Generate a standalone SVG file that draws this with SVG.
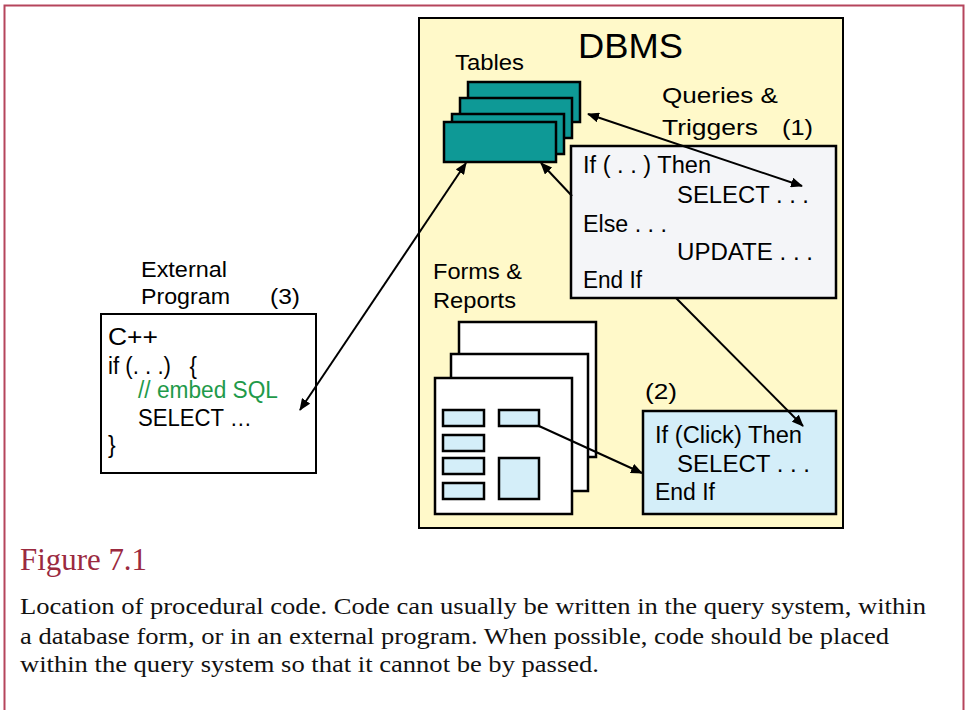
<svg xmlns="http://www.w3.org/2000/svg" width="966" height="710" viewBox="0 0 966 710">
<defs>
<marker id="ah" viewBox="0 0 12 10" refX="11" refY="5" markerWidth="12" markerHeight="10" markerUnits="userSpaceOnUse" orient="auto-start-reverse">
<path d="M0,0 L12,5 L0,10 Z" fill="#000"/>
</marker>
</defs>
<style>
.t{font-family:"Liberation Sans",Arial,sans-serif;font-size:22px;fill:#000}
.c{font-family:"Liberation Sans",Arial,sans-serif;font-size:23px;fill:#000}
.box{stroke:#000;stroke-width:2.5}
.tbl{fill:#0e9996;stroke:#000;stroke-width:2.5}
.fm{fill:#fff;stroke:#000;stroke-width:2.5}
.lb{fill:#d4eef9;stroke:#000;stroke-width:2.5}
.conn{stroke:#000;stroke-width:2;fill:none}
.cap{font-family:"Liberation Serif","Times New Roman",serif;fill:#111}
</style>
<rect x="0" y="0" width="966" height="710" fill="#fff"/>
<rect x="4.5" y="5.5" width="959" height="730" fill="none" stroke="#b5455c" stroke-width="2"/>

<g id="dbms">
<rect x="419" y="18" width="424" height="510" fill="#fff9c9" stroke="#000" stroke-width="2"/>
<text class="t" x="578" y="58" style="font-size:35px" textLength="105" lengthAdjust="spacingAndGlyphs">DBMS</text>
</g>

<g id="tables">
<rect class="tbl" x="468" y="82" width="112" height="40"/>
<rect class="tbl" x="460" y="98" width="112" height="40"/>
<rect class="tbl" x="452" y="114" width="112" height="40"/>
<rect class="tbl" x="444" y="122" width="112" height="40"/>
<text class="t" x="455" y="70" textLength="69" lengthAdjust="spacingAndGlyphs">Tables</text>
</g>

<g id="queries">
<text class="t" x="662" y="103" textLength="116" lengthAdjust="spacingAndGlyphs">Queries &amp;</text>
<text class="t" x="662" y="135" textLength="96" lengthAdjust="spacingAndGlyphs">Triggers</text>
<text class="t" x="782" y="135" textLength="31" lengthAdjust="spacingAndGlyphs">(1)</text>
<rect class="box" x="571" y="146" width="265" height="152" fill="#f4f5f8"/>
<text class="c" x="583" y="173" textLength="128" lengthAdjust="spacingAndGlyphs">If ( . . ) Then</text>
<text class="c" x="677" y="203" textLength="132" lengthAdjust="spacingAndGlyphs">SELECT . . .</text>
<text class="c" x="583" y="232" textLength="84" lengthAdjust="spacingAndGlyphs">Else . . .</text>
<text class="c" x="677" y="260" textLength="136" lengthAdjust="spacingAndGlyphs">UPDATE . . .</text>
<text class="c" x="583" y="288" textLength="59" lengthAdjust="spacingAndGlyphs">End If</text>
</g>

<g id="forms">
<text class="t" x="433" y="279" textLength="89" lengthAdjust="spacingAndGlyphs">Forms &amp;</text>
<text class="t" x="433" y="308" textLength="83" lengthAdjust="spacingAndGlyphs">Reports</text>
<rect class="fm" x="459" y="322" width="137" height="135"/>
<rect class="fm" x="451" y="354" width="137" height="137"/>
<rect class="fm" x="435" y="378" width="137" height="136"/>
<rect class="lb" x="443" y="410" width="41" height="16"/>
<rect class="lb" x="443" y="435" width="41" height="16"/>
<rect class="lb" x="443" y="458" width="41" height="16"/>
<rect class="lb" x="443" y="483" width="41" height="16"/>
<rect class="lb" x="499" y="410" width="40" height="16"/>
<rect class="lb" x="499" y="458" width="40" height="41"/>
</g>

<g id="click">
<text class="t" x="645" y="399" textLength="32" lengthAdjust="spacingAndGlyphs">(2)</text>
<rect class="box" x="643" y="411" width="193" height="103" fill="#d4eef9"/>
<text class="c" x="655" y="443" textLength="147" lengthAdjust="spacingAndGlyphs">If (Click) Then</text>
<text class="c" x="677" y="472" textLength="133" lengthAdjust="spacingAndGlyphs">SELECT . . .</text>
<text class="c" x="655" y="500" textLength="60" lengthAdjust="spacingAndGlyphs">End If</text>
</g>

<g id="external">
<text class="t" x="141" y="277" textLength="86" lengthAdjust="spacingAndGlyphs">External</text>
<text class="t" x="141" y="304" textLength="89" lengthAdjust="spacingAndGlyphs">Program</text>
<text class="t" x="270" y="304" textLength="30" lengthAdjust="spacingAndGlyphs">(3)</text>
<rect x="101" y="314" width="215" height="159" fill="#fff" stroke="#000" stroke-width="2"/>
<text class="c" x="108" y="345" textLength="50" lengthAdjust="spacingAndGlyphs">C++</text>
<text class="c" x="108" y="374" xml:space="preserve" style="white-space:pre" textLength="89" lengthAdjust="spacingAndGlyphs">if (. . .)   {</text>
<text class="c" x="138" y="398" style="fill:#1f9a4a" textLength="140" lengthAdjust="spacingAndGlyphs">// embed SQL</text>
<text class="c" x="138" y="426" textLength="114" lengthAdjust="spacingAndGlyphs">SELECT …</text>
<text class="c" x="108" y="453">}</text>
</g>

<g id="connectors">
<line class="conn" x1="588" y1="114" x2="802" y2="186" marker-start="url(#ah)" marker-end="url(#ah)"/>
<line class="conn" x1="572" y1="196" x2="541" y2="163" marker-end="url(#ah)"/>
<line class="conn" x1="466" y1="163" x2="300" y2="410" marker-start="url(#ah)" marker-end="url(#ah)"/>
<line class="conn" x1="676" y1="298" x2="803" y2="426" marker-end="url(#ah)"/>
<line class="conn" x1="539" y1="426" x2="642" y2="473" marker-end="url(#ah)"/>
</g>

<g id="caption">
<text class="cap" x="20" y="570" style="font-size:31px;fill:#9b2a3f" textLength="127" lengthAdjust="spacingAndGlyphs">Figure 7.1</text>
<text class="cap" x="20" y="614" style="font-size:24px" textLength="906" lengthAdjust="spacingAndGlyphs">Location of procedural code. Code can usually be written in the query system, within</text>
<text class="cap" x="20" y="644" style="font-size:24px" textLength="869" lengthAdjust="spacingAndGlyphs">a database form, or in an external program. When possible, code should be placed</text>
<text class="cap" x="20" y="672" style="font-size:24px" textLength="579" lengthAdjust="spacingAndGlyphs">within the query system so that it cannot be by passed.</text>
</g>
</svg>
